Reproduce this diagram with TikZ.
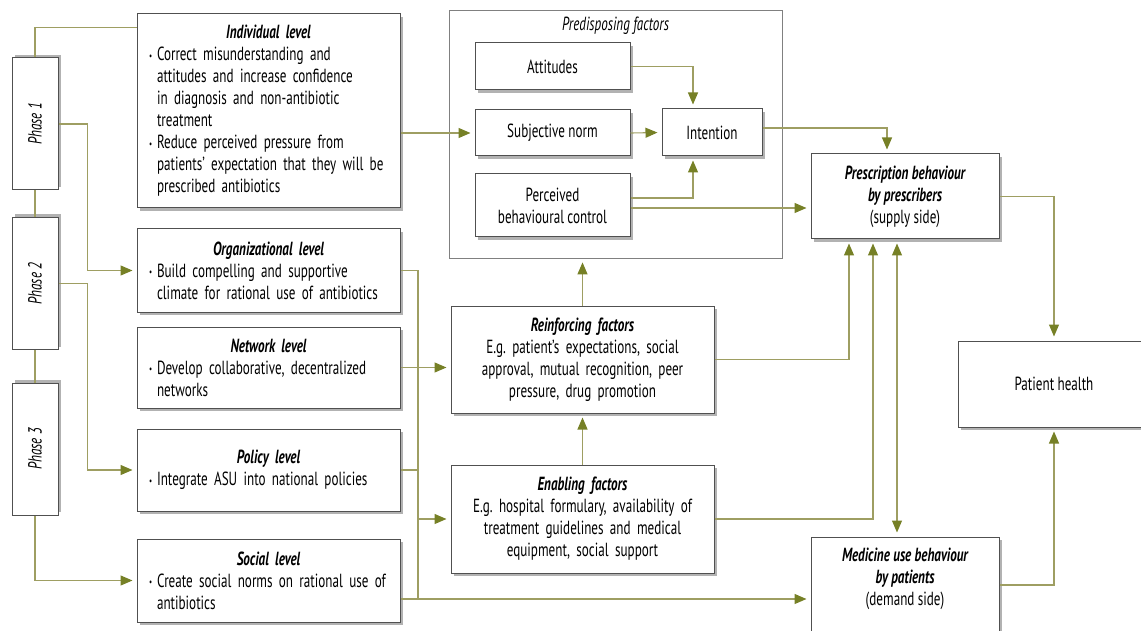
\documentclass[tikz,border=0pt]{standalone}
\usepackage{fontspec}
\setmainfont{PT Sans}[FakeStretch=0.69]
\usetikzlibrary{arrows.meta, shadows}

\definecolor{lncol}{RGB}{158,158,98}
\definecolor{tipcol}{RGB}{118,128,38}
\definecolor{boxcol}{RGB}{80,80,80}

\newcommand{\bitem}{\par\hangindent=8pt\hangafter=1\noindent\makebox[8pt][l]{\raisebox{1.5pt}{\fontsize{10}{10}\selectfont\textbullet}}}
\newcommand{\lvtitle}[1]{{\centering\bfseries\itshape #1\par}}
\newcommand{\boxfont}{\fontsize{19}{22}\selectfont\spaceskip=3.4pt plus 1.5pt minus 1pt}

\tikzset{
  basebox/.style={draw=boxcol, line width=1pt, fill=white, inner sep=0pt,
    drop shadow={shadow xshift=3pt, shadow yshift=-3pt, fill=black!30, opacity=1}},
  lvlbox/.style={basebox, text width=239pt, inner xsep=12pt, align=left, minimum height=#1},
  midbox/.style={basebox, text width=250pt, inner xsep=6.5pt, align=center, minimum height=#1},
  smallbox/.style={basebox, align=center, minimum width=155pt, minimum height=#1},
  phbox/.style={draw=boxcol, line width=1pt, fill=white, inner sep=0pt, minimum width=46pt, minimum height=132pt,
    drop shadow={shadow xshift=3pt, shadow yshift=3pt, fill=black!30, opacity=1}, font=\boxfont\itshape},
  ln/.style={draw=lncol, line width=1.1pt},
  arr/.style={ln, -{Triangle[length=12pt, width=10pt, color=tipcol]}, shorten >=4pt},
  dblarr/.style={ln, {Triangle[length=12pt, width=10pt, color=tipcol]}-{Triangle[length=12pt, width=10pt, color=tipcol]}, shorten >=4pt, shorten <=4pt},
}

\begin{document}
\frenchspacing
\begin{tikzpicture}[x=1pt, y=-1pt, every node/.style={font=\boxfont}]
  \useasboundingbox (0,0) rectangle (1141,631);

  % phases
  \node[phbox] (ph1) at (35,124) {\rotatebox{90}{Phase 1}};
  \node[phbox] (ph2) at (35,283.5) {\rotatebox{90}{Phase 2}};
  \node[phbox] (ph3) at (35,449) {\rotatebox{90}{Phase 3}};

  % intervention levels
  \node[lvlbox=194pt] (ind) at (268.5,111) {\lvtitle{Individual level}%
    \bitem Correct misunderstanding and\newline attitudes and increase confidence\newline in diagnosis and non-antibiotic\newline treatment%
    \bitem Reduce perceived pressure from\newline patients' expectation that they will be\newline prescribed antibiotics\par};
  \node[lvlbox=83pt] (org) at (268.5,270.5) {\lvtitle{Organizational level}%
    \bitem Build compelling and supportive\newline climate for rational use of antibiotics\par};
  \node[lvlbox=81pt] (net) at (268.5,367.5) {\lvtitle{Network level}%
    \bitem Develop collaborative, decentralized\newline networks\par};
  \node[lvlbox=82pt] (pol) at (268.5,470) {\lvtitle{Policy level}%
    \bitem Integrate ASU into national policies\par};
  \node[lvlbox=83pt] (soc) at (268.5,580.5) {\lvtitle{Social level}%
    \bitem Create social norms on rational use of\newline antibiotics\par};

  % predisposing factors
  \node[draw=gray, line width=0.8pt, minimum width=333pt, minimum height=248pt,
    label={[anchor=north, yshift=-4pt, font=\boxfont\itshape]north:Predisposing factors}] (pred) at (615.5,134) {};
  \node[smallbox=47pt] (att) at (552.5,66.5) {Attitudes};
  \node[smallbox=46pt] (subj) at (552.5,133) {Subjective norm};
  \node[smallbox=63pt] (pbc) at (552.5,205.5) {Perceived\\behavioural control};
  \node[basebox, minimum width=100pt, minimum height=47pt] (int) at (712,132.5) {Intention};

  % reinforcing and enabling
  \node[midbox=107pt] (rein) at (582.5,359.5) {{\bfseries\itshape Reinforcing factors}\\E.g. patient's expectations, social\\approval, mutual recognition, peer\\pressure, drug promotion};
  \node[midbox=108pt] (enab) at (582.5,519) {{\bfseries\itshape Enabling factors}\\E.g. hospital formulary, availability of\\treatment guidelines and medical\\equipment, social support};

  % behaviours and outcome
  \node[basebox, align=center, minimum width=188pt, minimum height=85pt] (pres) at (905,196.5) {{\bfseries\itshape Prescription behaviour}\\{\bfseries\itshape by prescribers}\\(supply side)};
  \node[basebox, align=center, minimum width=188pt, minimum height=124pt] (med) at (905,599) {{\bfseries\itshape Medicine use behaviour}\\{\bfseries\itshape by patients}\\(demand side)\\[22pt]\mbox{}};
  \node[basebox, minimum width=192pt, minimum height=86pt] (ph) at (1054,384) {Patient health};

  \coordinate (bus) at (418,270);

  % phase connectors
  \draw[ln] (ph1.north) |- ([yshift=-14pt]ind.north west);
  \draw[ln] (ph1.south) -- (ph2.north);
  \draw[ln] (ph2.south) -- (ph3.north);
  \draw[arr] (ph1.east) -| ([xshift=-49pt]org.west) -- (org.west);
  \draw[arr] (ph2.east) -| ([xshift=-49pt]pol.west) -- (pol.west);
  \draw[arr] (ph3.south) |- (soc.west);

  % levels to factors
  \draw[arr] (ind.east |- subj.west) -- (subj.west);
  \draw[ln] (org.east) -| (bus |- med.west);
  \draw[arr] (net.east) -- (rein.west |- net.east);
  \draw[ln] (pol.east) -- (bus |- pol.east);
  \draw[arr] (bus |- enab.west) -- (enab.west);
  \draw[arr] (soc.east |- med.west) -- (med.west);

  % inside predisposing factors
  \draw[arr] (att.east) -| ([xshift=-19pt]int.north);
  \draw[arr] (subj.east) -- (int.west);
  \draw[arr] ([yshift=7.5pt]pbc.east) -| ([xshift=-19pt]int.south);
  \draw[arr] ([yshift=-2.5pt]pbc.east) -- ([yshift=-2.5pt]pbc.east -| pres.west);
  \draw[arr] ([yshift=4.5pt]int.east) -| ([xshift=-18pt]pres.north);

  % factors to behaviour
  \draw[arr] (rein.north) -- (rein.north |- pred.south);
  \draw[arr] (enab.north) -- (rein.south);
  \draw[arr] (rein.east) -| ([xshift=-56pt]pres.south);
  \draw[arr] (enab.east) -| ([xshift=-32pt]pres.south);
  \draw[dblarr] ([xshift=-8pt]pres.south) -- ([xshift=-8pt]med.north);

  % behaviour to health
  \draw[arr] (pres.east) -| (ph.north);
  \draw[arr] ([yshift=14pt]med.east) -| (ph.south);
\end{tikzpicture}
\end{document}
